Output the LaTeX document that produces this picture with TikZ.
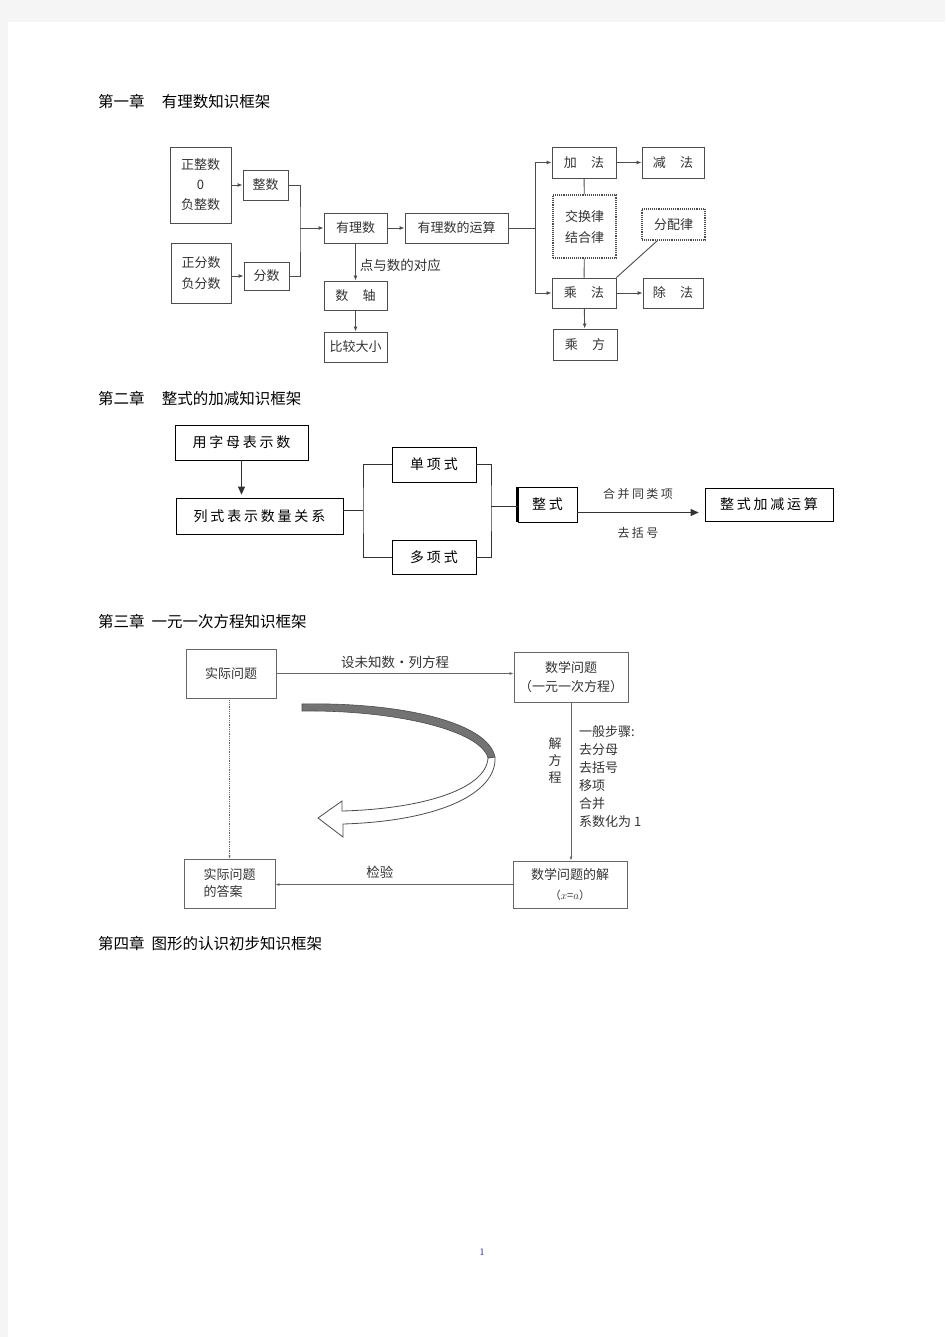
\documentclass[tikz,border=0pt]{standalone}
\usepackage{fontspec}
\usepackage{tikz}
\usetikzlibrary{arrows.meta}
\newfontfamily\cjk{Noto Sans CJK SC}
\newfontfamily\cjkw[LetterSpace=20]{Noto Sans CJK SC}

\begin{document}
\begin{tikzpicture}[x=1pt,y=-1pt,
  chaptitle/.style={anchor=west,inner sep=0pt,font=\cjk\fontsize{15.5}{18}\selectfont},
  boxa/.style={draw=black!70,line width=0.9pt,inner sep=0pt,align=center,text=black!80,font=\cjk\fontsize{13}{21}\selectfont},
  dotboxa/.style={boxa,densely dotted,line width=1.1pt},
  linea/.style={draw=black!70,line width=0.9pt},
  arra/.style={linea,-{Latex[length=5pt,width=4pt]}},
  boxb/.style={draw=black,line width=0.7pt,inner sep=0pt,font=\cjkw\fontsize{14}{16}\selectfont},
  lineb/.style={draw=black!80,line width=0.7pt},
  arrb/.style={lineb,-{Triangle[length=8pt,width=7pt]}},
  boxc/.style={draw=black!60,line width=0.9pt,inner sep=0pt,align=center,text=black!80,font=\cjk\fontsize{13}{19}\selectfont},
  linec/.style={draw=black!60,line width=0.8pt},
  arrc/.style={linec,-{Latex[length=4pt,width=3pt]}},
  lbl/.style={inner sep=0pt,text=black!80,font=\cjk\fontsize{13.5}{18}\selectfont}
]
\useasboundingbox (0,0) rectangle (945,1337);
\fill[black!4] (0,0) rectangle (945,1337);
\fill[white] (8,22) rectangle (945,1337);

% chapter 1
\node[chaptitle] (t1) at (98,102) {第一章\hspace{1.1em}有理数知识框架};

\node[boxa,minimum width=61pt,minimum height=76pt,font=\cjk\fontsize{13}{20}\selectfont] (zs) at (200.5,185) {正整数\\0\\负整数};
\node[boxa,minimum width=45pt,minimum height=30pt] (zhengshu) at (265.5,185) {整数};
\node[boxa,minimum width=60pt,minimum height=60pt] (fs) at (201,273) {正分数\\负分数};
\node[boxa,minimum width=45pt,minimum height=28pt] (fenshu) at (266.5,276) {分数};
\node[boxa,minimum width=63pt,minimum height=30pt] (youli) at (355.5,228) {有理数};
\node[boxa,minimum width=103pt,minimum height=30pt] (yunsuan) at (456.5,228) {有理数的运算};
\node[boxa,minimum width=63pt,minimum height=29pt] (shuzhou) at (355.5,295.5) {数\hspace{1.1em}轴};
\node[boxa,minimum width=63pt,minimum height=30pt] (bijiao) at (355.5,347) {比较大小};
\node[boxa,minimum width=64pt,minimum height=31pt] (jia) at (584,162.5) {加\hspace{1.1em}法};
\node[boxa,minimum width=62pt,minimum height=31pt] (jian) at (673,162.5) {减\hspace{1.1em}法};
\node[dotboxa,minimum width=63pt,minimum height=63pt] (jiaohuan) at (584.5,226.5) {交换律\\结合律};
\node[dotboxa,minimum width=63pt,minimum height=31pt] (fenpei) at (673.5,224.5) {分配律};
\node[boxa,minimum width=64pt,minimum height=30pt] (cheng) at (584,293) {乘\hspace{1.1em}法};
\node[boxa,minimum width=60pt,minimum height=30pt] (chu) at (673,293) {除\hspace{1.1em}法};
\node[boxa,minimum width=64pt,minimum height=31pt] (chengfang) at (585,344.5) {乘\hspace{1.1em}方};

\coordinate (ja) at (300,228);
\coordinate (jb) at (535,228);
\draw[arra] (zs) -- (zhengshu);
\draw[arra] (fs.east |- fenshu) -- (fenshu);
\draw[linea] (zhengshu.east) -| (ja) |- (fenshu.east);
\draw[arra] (ja) -- (youli);
\draw[arra] (youli) -- (yunsuan);
\draw[arra] (youli) -- node[lbl,midway,right,xshift=4pt,yshift=-3pt]{点与数的对应} (shuzhou);
\draw[arra] (shuzhou) -- (bijiao);
\draw[linea] (yunsuan) -- (jb);
\draw[arra] (jb) |- (jia);
\draw[arra] (jb) |- (cheng);
\draw[arra] (jia) -- (jian);
\draw[linea] (jia) -- (jiaohuan);
\draw[linea] (jiaohuan) -- (cheng);
\draw[linea] (cheng.north east) -- (fenpei.-135);
\draw[arra] (cheng) -- (chu);
\draw[arra] (cheng) -- (chengfang);

% chapter 2
\node[chaptitle] (t2) at (98,399) {第二章\hspace{1.1em}整式的加减知识框架};

\node[boxb,minimum width=133pt,minimum height=35pt] (yong) at (241.5,442.5) {用字母表示数};
\node[boxb,minimum width=167pt,minimum height=36pt] (lieshi) at (259.5,516) {列式表示数量关系};
\node[boxb,minimum width=84pt,minimum height=35pt] (dan) at (434,464.5) {单项式};
\node[boxb,minimum width=84pt,minimum height=34pt] (duo) at (434,557) {多项式};
\node[boxb,minimum width=59pt,minimum height=35pt] (zhengshi) at (547.5,504.5) {整式};
\node[boxb,minimum width=128pt,minimum height=33pt] (jiajian) at (769,504.5) {整式加减运算};
\draw[line width=2.5pt] (zhengshi.north west) -- (zhengshi.south west);

\coordinate (jc) at (363,510);
\coordinate (jd) at (491,506);
\draw[arrb] (yong) -- ([yshift=3pt]yong |- lieshi.north);
\draw[lineb] (lieshi.east |- jc) -- (jc);
\draw[lineb] (dan.west) -| (jc) |- (duo.west);
\draw[lineb] (dan.east) -| (jd) |- (duo.east);
\draw[lineb] (jd) -- (zhengshi.west |- jd);
\draw[arrb] ([yshift=-8pt]zhengshi.east) -- node[lbl,midway,yshift=19pt,font=\cjkw\fontsize{12}{14}\selectfont]{合并同类项} node[lbl,midway,yshift=-20pt,font=\cjkw\fontsize{12}{14}\selectfont]{去括号} ([yshift=-8pt,xshift=-6pt]jiajian.west);

% chapter 3
\node[chaptitle] (t3) at (98,622) {第三章\hspace{0.45em}一元一次方程知识框架};

\node[boxc,minimum width=90pt,minimum height=49pt] (shiji) at (231,673.5) {实际问题};
\node[boxc,minimum width=114pt,minimum height=50pt] (shuxue) at (571,677) {数学问题\\（一元一次方程）};
\node[boxc,minimum width=114pt,minimum height=47pt] (jie) at (570,884.5) {数学问题的解\\{\fontsize{11}{19}\selectfont（$x$=$a$）}};
\node[boxc,minimum width=91pt,minimum height=49pt,align=left,font=\cjk\fontsize{13}{17}\selectfont] (daan) at (229.5,883.5) {实际问题\\的答案};

\draw[arrc] (shiji) -- node[lbl,midway,yshift=11pt]{设未知数·列方程} (shuxue.west |- shiji);
\draw[arrc] (shuxue) -- (shuxue |- jie.north);
\draw[arrc] (jie) -- node[lbl,pos=0.56,yshift=12pt]{检验} (daan.east |- jie);
\draw[linec,densely dotted,-{Latex[length=3pt,width=2.5pt]}] (shiji.south -| daan) -- (daan);

\node[lbl,align=center,font=\cjk\fontsize{13}{17}\selectfont] (jiefc) at (555,761) {解\\方\\程};
\node[lbl,anchor=north west,align=left,font=\cjk\fontsize{13}{18}\selectfont] (buzhou) at (579,725) {一般步骤:\\去分母\\去括号\\移项\\合并\\系数化为 1};

% curved arrow
\draw[black!70,fill=black!55,line width=0.6pt] (302,704) .. controls (400,702) and (488,722) .. (495,757)
  -- (488,758) .. controls (481,731) and (398,710) .. (302,711) -- cycle;
\draw[black!70,fill=white,line width=0.8pt] (488,758) .. controls (486,790) and (420,809) .. (342,811)
  -- (342,801) -- (318,818) -- (343,837) -- (343,824) .. controls (440,821) and (497,793) .. (495,757) -- cycle;

% chapter 4
\node[chaptitle] (t4) at (98,944) {第四章\hspace{0.45em}图形的认识初步知识框架};

\node[text=blue!70!black,font=\fontsize{10}{12}\selectfont] (pg) at (482,1252) {1};
\end{tikzpicture}
\end{document}
